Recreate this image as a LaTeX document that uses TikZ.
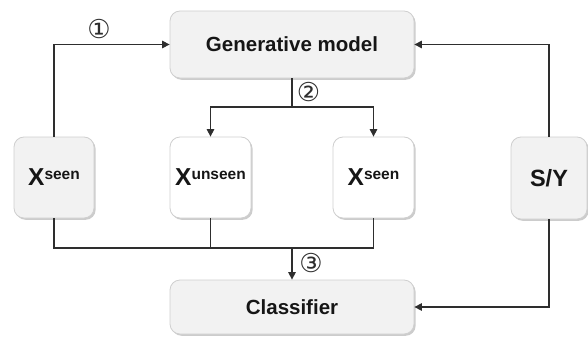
\documentclass[tikz,border=0pt]{standalone}
\usepackage{fontspec}
\setmainfont{Liberation Sans}
\newfontfamily\symfont{DejaVu Sans}
\usetikzlibrary{arrows.meta,shadows,calc}

\definecolor{boxgray}{HTML}{F2F2F2}
\definecolor{boxline}{HTML}{CFCFCF}
\definecolor{wire}{HTML}{2E2E2E}
\definecolor{ink}{HTML}{161616}

\tikzset{
  block/.style={draw=boxline, line width=0.8pt, rounded corners=10pt,
    fill=boxgray, text=ink, font=\bfseries\fontsize{20.5}{24}\selectfont,
    inner sep=0pt,
    drop shadow={shadow xshift=1.6pt, shadow yshift=-1.8pt, fill=black!40, opacity=0.5}},
  whiteblock/.style={block, fill=white},
  wireline/.style={draw=wire, line width=1.3pt},
  arr/.style={wireline, -{Triangle[length=7.5pt,width=7.5pt]}},
  steplabel/.style={font=\symfont\fontsize{26}{26}\selectfont, text=wire, inner sep=0pt},
}

% feature symbol with a superscript tag
\newcommand{\featX}[1]{\fontsize{24.5}{26}\selectfont X\raisebox{6pt}{\fontsize{15.5}{16}\selectfont #1}}

\begin{document}
\begin{tikzpicture}[x=1pt,y=-1pt]
\useasboundingbox (0,0) rectangle (588,337);

% main blocks
\node[block, minimum width=244pt, minimum height=67pt] (gen) at (292,44.5) {Generative model};
\node[block, minimum width=244pt, minimum height=54pt] (cls) at (292,307) {Classifier};

% feature and side-information blocks
\node[block, minimum width=80pt, minimum height=81pt] (xs1) at (54,177.5) {\featX{seen}};
\node[whiteblock, minimum width=81pt, minimum height=81pt] (xu) at (210.5,177.5) {\featX{unseen}};
\node[whiteblock, minimum width=81pt, minimum height=81pt] (xs2) at (373.5,177.5) {\featX{seen}};
\node[block, minimum width=76pt, minimum height=82pt, font=\bfseries\fontsize{23.5}{26}\selectfont] (sy) at (549,178) {S/Y};

% junction points
\coordinate (split) at (292,107);
\coordinate (merge) at (292,248);

% step 1: seen features into the generator
\draw[arr] (xs1.north) |- (gen.west);
% side information to generator and classifier
\draw[arr] (sy.north) |- (gen.east);
\draw[arr] (sy.south) |- (cls.east);

% step 2: generator produces features
\draw[wireline] (gen.south) -- (split);
\draw[arr] (split) -| (xu.north);
\draw[arr] (split) -| (xs2.north);

% step 3: features into the classifier
\draw[wireline] (xs1.south) |- (merge) -| (xs2.south);
\draw[wireline] (xu.south) -- (xu.south |- merge);
\draw[arr] (merge) -- (cls.north);

% step labels
\node[steplabel] (s1) at (99,29) {①};
\node[steplabel] (s2) at (308.5,92) {②};
\node[steplabel] (s3) at (311,263) {③};
\end{tikzpicture}
\end{document}
